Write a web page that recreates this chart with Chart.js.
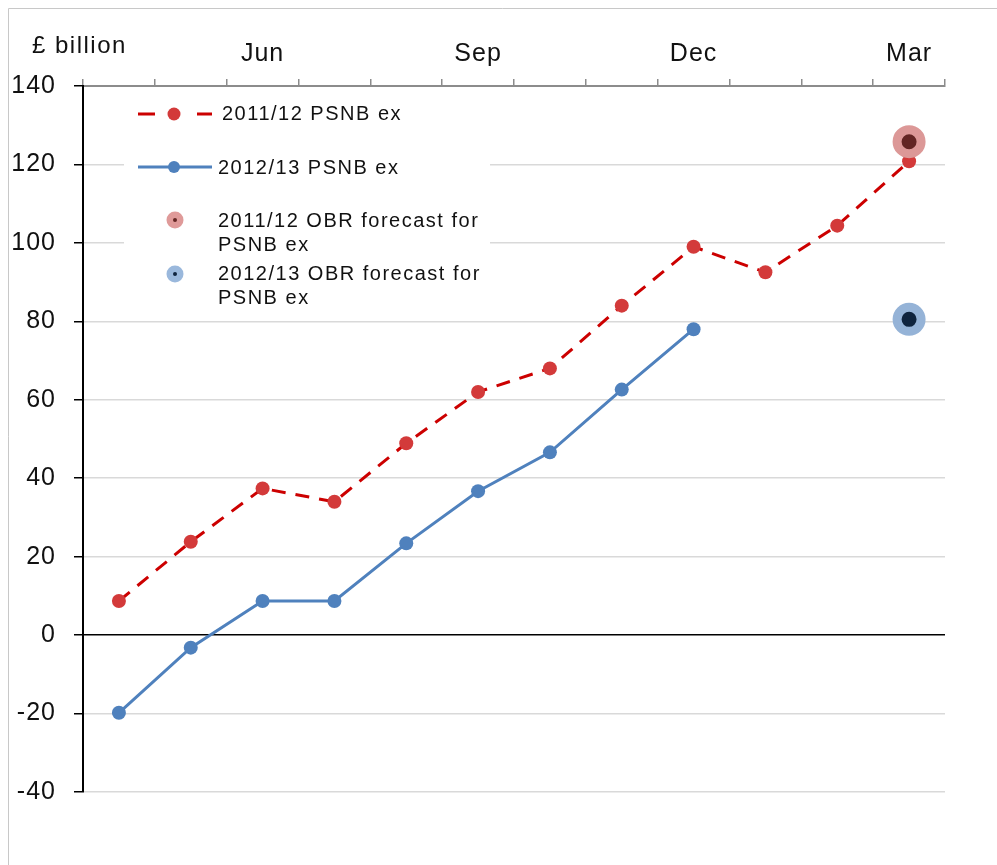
<!DOCTYPE html>
<html>
<head>
<meta charset="utf-8">
<script src="https://cdn.jsdelivr.net/npm/chart.js@4"></script>
<style>
  html, body { margin: 0; padding: 0; background: #fff; }
  #wrap { position: relative; width: 997px; height: 865px; }
</style>
</head>
<body>
<div id="wrap"><canvas id="psnbChart" width="997" height="865"></canvas></div>
<script>
const months = ["Apr", "May", "Jun", "Jul", "Aug", "Sep", "Oct", "Nov", "Dec", "Jan", "Feb", "Mar"];
const shownMonths = ["Jun", "Sep", "Dec", "Mar"];
const psnb1112 = [8.7, 23.8, 37.4, 34, 48.9, 62, 68, 84, 99, 92.5, 104.4, 120.8];
const psnb1213 = [-19.8, -3.2, 8.7, 8.7, 23.4, 36.7, 46.6, 62.6, 78];
const obr1112 = [null, null, null, null, null, null, null, null, null, null, null, 125.8];
const obr1213 = [null, null, null, null, null, null, null, null, null, null, null, 80.5];
const yTicks = [-40, -20, 0, 20, 40, 60, 80, 100, 120, 140];
const unitLabel = "£ billion";

const FONT = "'Liberation Sans', Arial, sans-serif";
const RED_LINE = "#cc0000";
const RED_DOT = "#d33a3a";
const BLUE = "#4f81bd";

// legend drawn inside the plot area, like the original
const legendPlugin = {
  id: "innerLegend",
  beforeDraw(chart) {
    chart.ctx.letterSpacing = "1px";
  },
  beforeDatasetsDraw(chart) {
    const ctx = chart.ctx;
    ctx.save();
    ctx.fillStyle = "#fff";
    ctx.fillRect(124, 94, 366, 216);

    // 2011/12 line entry
    ctx.strokeStyle = RED_LINE;
    ctx.lineWidth = 3;
    ctx.beginPath();
    ctx.moveTo(138, 114); ctx.lineTo(155, 114);
    ctx.moveTo(197, 114); ctx.lineTo(212, 114);
    ctx.stroke();
    ctx.fillStyle = RED_DOT;
    ctx.beginPath(); ctx.arc(174, 114, 6.5, 0, Math.PI * 2); ctx.fill();

    // 2012/13 line entry
    ctx.strokeStyle = BLUE;
    ctx.beginPath(); ctx.moveTo(138, 167); ctx.lineTo(212, 167); ctx.stroke();
    ctx.fillStyle = BLUE;
    ctx.beginPath(); ctx.arc(174, 167, 6, 0, Math.PI * 2); ctx.fill();

    // forecast markers
    ctx.fillStyle = "#df9a99";
    ctx.beginPath(); ctx.arc(175, 220, 8.5, 0, Math.PI * 2); ctx.fill();
    ctx.fillStyle = "#632523";
    ctx.beginPath(); ctx.arc(175, 220, 2, 0, Math.PI * 2); ctx.fill();
    ctx.fillStyle = "#9ab8dc";
    ctx.beginPath(); ctx.arc(175, 274, 8.5, 0, Math.PI * 2); ctx.fill();
    ctx.fillStyle = "#0f243e";
    ctx.beginPath(); ctx.arc(175, 274, 2, 0, Math.PI * 2); ctx.fill();

    ctx.fillStyle = "#111";
    ctx.font = "20px " + FONT;
    ctx.letterSpacing = "1.5px";
    ctx.textBaseline = "middle";
    ctx.textAlign = "left";
    ctx.fillText(chart.data.datasets[0].label, 222, 114);
    ctx.fillText(chart.data.datasets[1].label, 218, 168);
    ctx.fillText("2011/12 OBR forecast for", 218, 221);
    ctx.fillText("PSNB ex", 218, 245);
    ctx.fillText("2012/13 OBR forecast for", 218, 274);
    ctx.fillText("PSNB ex", 218, 298);
    ctx.restore();
  },
  afterDraw(chart) {
    const ctx = chart.ctx;
    ctx.save();
    ctx.fillStyle = "#111";
    ctx.font = "24px " + FONT;
    ctx.letterSpacing = "1.5px";
    ctx.textAlign = "left";
    ctx.textBaseline = "alphabetic";
    ctx.fillText(unitLabel, 32, 53);
    // frame lines of the original image
    ctx.strokeStyle = "#c8c8c8";
    ctx.lineWidth = 1;
    ctx.beginPath();
    ctx.moveTo(8.5, 865); ctx.lineTo(8.5, 8.5); ctx.lineTo(997, 8.5);
    ctx.stroke();
    ctx.restore();
  }
};

new Chart(document.getElementById("psnbChart"), {
  type: "line",
  data: {
    labels: months,
    datasets: [
      {
        label: "2011/12 PSNB ex",
        data: psnb1112,
        borderColor: RED_LINE,
        borderWidth: 3,
        borderDash: [14, 10],
        pointRadius: 7,
        pointBorderWidth: 0,
        pointBackgroundColor: RED_DOT,
        tension: 0,
        order: 2
      },
      {
        label: "2012/13 PSNB ex",
        data: psnb1213,
        borderColor: BLUE,
        borderWidth: 3,
        pointRadius: 7,
        pointBorderWidth: 0,
        pointBackgroundColor: BLUE,
        tension: 0,
        order: 2
      },
      {
        label: "2011/12 OBR forecast for PSNB ex",
        data: obr1112,
        showLine: false,
        pointRadius: 12,
        pointBorderWidth: 9,
        pointBorderColor: "#dc9897",
        pointBackgroundColor: "#632523",
        order: 1
      },
      {
        label: "2012/13 OBR forecast for PSNB ex",
        data: obr1213,
        showLine: false,
        pointRadius: 12,
        pointBorderWidth: 9,
        pointBorderColor: "#95b3d7",
        pointBackgroundColor: "#0f243e",
        order: 1
      }
    ]
  },
  options: {
    responsive: false,
    animation: false,
    layout: { padding: { left: 0, right: 52, top: 0, bottom: 73 } },
    plugins: { legend: { display: false }, tooltip: { enabled: false } },
    scales: {
      x: {
        position: "top",
        offset: true,
        afterFit(scale) { scale.height = 86; },
        grid: {
          offset: true,
          drawOnChartArea: false,
          tickLength: 7,
          color: "#8c8c8c",
          lineWidth: 1.5
        },
        border: { color: "#8c8c8c", width: 2 },
        ticks: {
          autoSkip: false,
          maxRotation: 0,
          padding: 10,
          color: "#111",
          font: { family: FONT, size: 25 },
          callback(value) {
            const m = this.getLabelForValue(value);
            return shownMonths.includes(m) ? m : "";
          }
        }
      },
      y: {
        min: -40,
        max: 140,
        afterFit(scale) { scale.width = 83; },
        afterBuildTicks(scale) { scale.ticks = yTicks.map(v => ({ value: v })); },
        grid: {
          color: ctx => (ctx.tick && ctx.tick.value === 0 ? "#000" : "#d9d9d9"),
          lineWidth: 1.5,
          tickColor: "#000",
          tickLength: 9
        },
        border: { color: "#000", width: 2 },
        ticks: {
          padding: 18,
          color: "#111",
          font: { family: FONT, size: 25 }
        }
      }
    }
  },
  plugins: [legendPlugin]
});
</script>
</body>
</html>
